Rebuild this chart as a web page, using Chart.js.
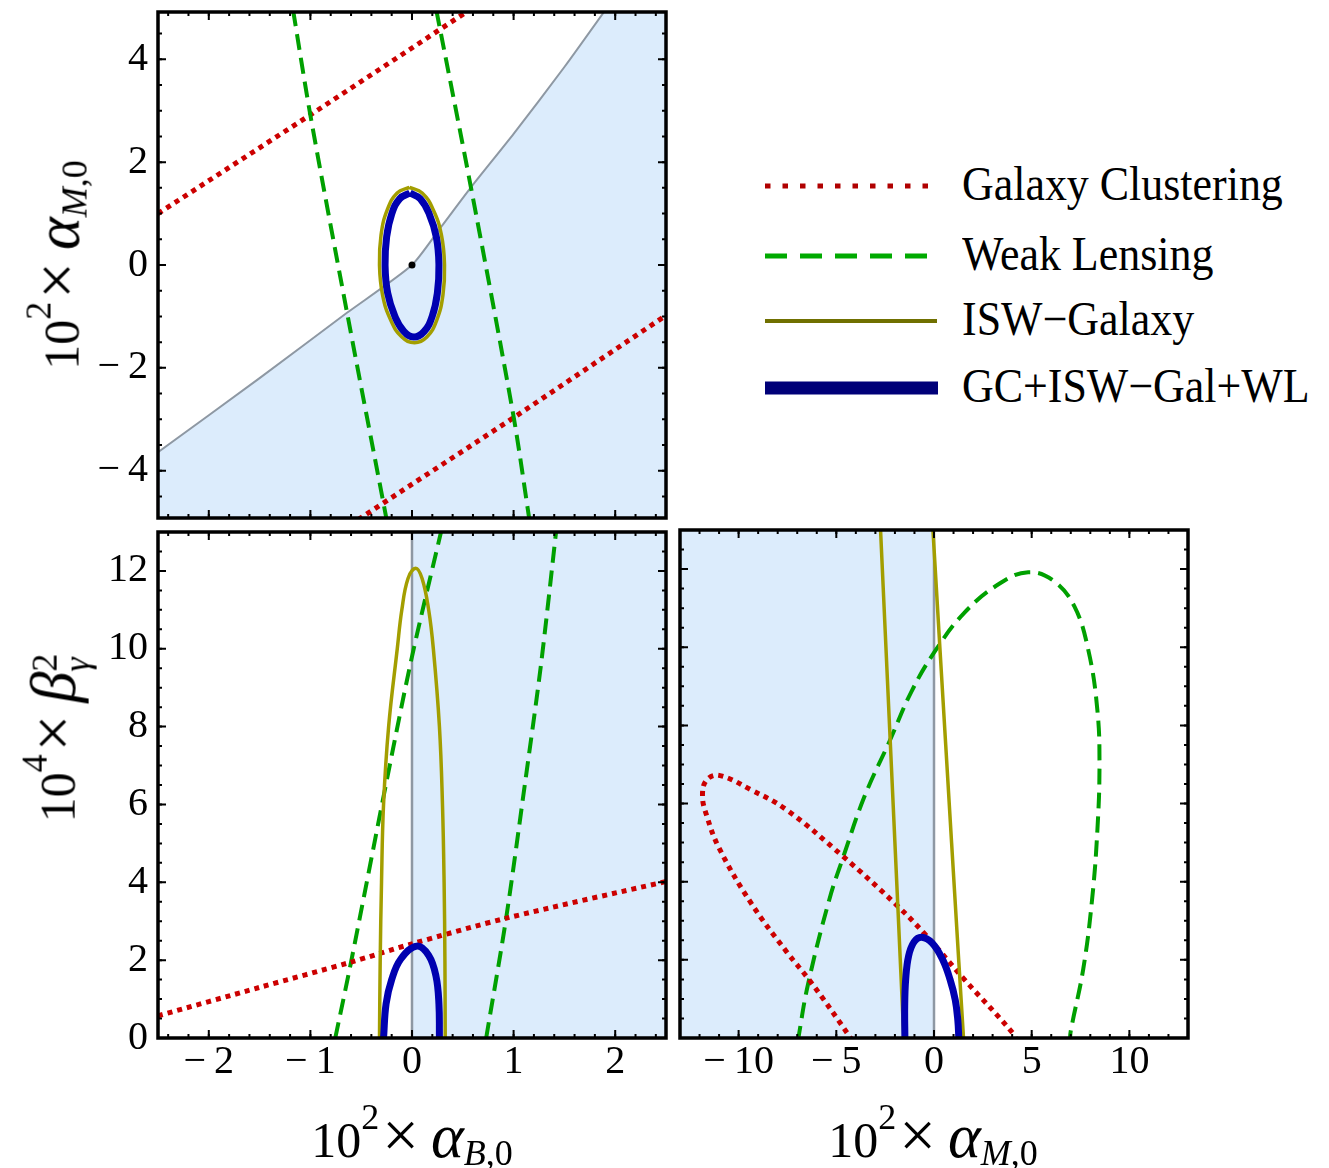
<!DOCTYPE html>
<html>
<head>
<meta charset="utf-8">
<script src="https://cdn.jsdelivr.net/npm/chart.js@4.4.0/dist/chart.umd.min.js"></script>
<style>
  body { margin: 0; background: #fff; width: 1329px; height: 1168px; position: relative; overflow: hidden; font-family: "Liberation Serif", "Times New Roman", serif; }
  canvas { position: absolute; }
  .title { position: absolute; font-size: 50px; white-space: nowrap; color: #000; line-height: 1; transform: translate(-50%, -50%); }
  .title.rot { transform: translate(-50%, -50%) rotate(-90deg); }
  .title sup { font-size: 0.72em; position: relative; top: -0.12em; vertical-align: top; }
  .title sub { font-size: 0.72em; position: relative; top: 0.08em; vertical-align: bottom; }
  .title .times { font-size: 1.3em; margin: 0 12px 0 3px; }
  .title .sym { font-size: 1.25em; }
  .stack { display: inline-block; font-size: 0.72em; line-height: 0.9; vertical-align: -0.4em; text-align: left; }
  .stack span { display: block; }
  .legend { position: absolute; left: 765px; }
  .legend .row { position: absolute; left: 0; height: 0; white-space: nowrap; }
  .legend svg { position: absolute; left: 0; top: -10px; }
  .legend .txt { position: absolute; left: 197px; top: -26px; font-size: 48px; line-height: 48px; transform: scaleX(0.915); transform-origin: left center; }
</style>
</head>
<body>
<canvas id="c1" width="680" height="530" style="left:0;top:0"></canvas>
<canvas id="c2" width="680" height="580" style="left:0;top:520px"></canvas>
<canvas id="c3" width="530" height="580" style="left:670px;top:520px"></canvas>

<div class="title rot" style="left:57px;top:265px">10<sup>2</sup><span class="times">×</span><i class="sym">α</i><sub><i>M</i>,0</sub></div>
<div class="title rot" style="left:57px;top:738px">10<sup>4</sup><span class="times">×</span><i class="sym">β</i><span class="stack"><span>2</span><span><i>γ</i></span></span></div>
<div class="title" style="left:412px;top:1135px">10<sup>2</sup><span class="times">×</span><i class="sym">α</i><sub><i>B</i>,0</sub></div>
<div class="title" style="left:933px;top:1135px">10<sup>2</sup><span class="times">×</span><i class="sym">α</i><sub><i>M</i>,0</sub></div>

<div class="legend">
  <div class="row" style="top:186px">
    <svg width="180" height="20"><line x1="0" y1="10" x2="170" y2="10" stroke="#b00000" stroke-width="5" stroke-dasharray="5.5 12"/></svg>
    <div class="txt">Galaxy Clustering</div>
  </div>
  <div class="row" style="top:256px">
    <svg width="180" height="20"><line x1="0" y1="10" x2="167" y2="10" stroke="#00aa00" stroke-width="5" stroke-dasharray="22 13"/></svg>
    <div class="txt">Weak Lensing</div>
  </div>
  <div class="row" style="top:321px">
    <svg width="180" height="20"><line x1="0" y1="10" x2="172" y2="10" stroke="#707000" stroke-width="4"/></svg>
    <div class="txt">ISW−Galaxy</div>
  </div>
  <div class="row" style="top:388px">
    <svg width="180" height="20"><line x1="0" y1="10" x2="173" y2="10" stroke="#000078" stroke-width="13"/></svg>
    <div class="txt">GC+ISW−Gal+WL</div>
  </div>
</div>

<script>
// ---- panel 1: 10^2 alpha_B (x) vs 10^2 alpha_M (y) ----
const p1XTicks = [-2, -1, 0, 1, 2];
const p1YTicks = [-4, -2, 0, 2, 4];
const p1GcUpper = [[-2.5, 1.0], [-1.0, 2.92], [0.56, 4.95]];
const p1GcLower = [[-0.53, -4.95], [1.0, -2.97], [2.5, -0.98]];
const p1WlLeft = [[-1.17, 4.95], [-1.0, 2.91], [-0.64, -0.92], [-0.25, -4.95]];
const p1WlRight = [[0.24, 4.95], [0.58, 1.51], [1.0, -2.95], [1.155, -4.95]];
const p1Isw = [[-0.025, 1.51], [0.1, 1.4], [0.21, 1.07], [0.29, 0.58], [0.32, 0], [0.305, -0.58], [0.244, -1.07],
  [0.146, -1.4], [0.025, -1.51], [-0.1, -1.4], [-0.21, -1.07], [-0.29, -0.58], [-0.32, 0], [-0.305, 0.58],
  [-0.244, 1.07], [-0.146, 1.4], [-0.025, 1.51]];
const p1All = [[-0.02, 1.4], [0.08, 1.29], [0.17, 0.99], [0.24, 0.54], [0.265, 0], [0.25, -0.54], [0.2, -0.99],
  [0.12, -1.29], [0.02, -1.4], [-0.08, -1.29], [-0.17, -0.99], [-0.24, -0.54], [-0.265, 0], [-0.25, 0.54],
  [-0.2, 0.99], [-0.12, 1.29], [-0.02, 1.4]];
const p1Bound = [[-2.6, -3.79], [-2.5, -3.64], [-1.5, -2.2], [-0.64, -0.93], [0, 0], [0.29, 0.75], [0.58, 1.51],
  [1.0, 2.55], [1.5, 3.85], [1.9, 4.95], [2.6, 6.9]];
const p1Fiducial = [[0, 0]];

// ---- panel 2: 10^2 alpha_B (x) vs 10^4 beta_gamma^2 (y) ----
const p2XTicks = [-2, -1, 0, 1, 2];
const p2YTicks = [0, 2, 4, 6, 8, 10, 12];
const p2Gc = [[-2.5, 0.57], [-1.5, 1.3], [-0.6, 1.95], [0, 2.42], [0.93, 3.08], [2.5, 4.02]];
const p2WlLeft = [[-0.755, 0], [-0.6, 1.95], [-0.25, 6.6], [0, 9.8], [0.29, 13.05]];
const p2WlRight = [[0.73, 0], [0.925, 3.05], [1.11, 6.5], [1.27, 9.6], [1.42, 13.05]];
const p2Isw = [[-0.32, 0], [-0.313, 2], [-0.3, 4], [-0.28, 6], [-0.23, 8], [-0.145, 10], [-0.1, 11],
  [-0.04, 11.8], [0.036, 12.07], [0.1, 11.8], [0.164, 11], [0.21, 10], [0.27, 8], [0.3, 6], [0.316, 4],
  [0.324, 2], [0.327, 0]];
const p2All = [[-0.28, 0], [-0.255, 0.88], [-0.2, 1.5], [-0.11, 2.03], [0.047, 2.36], [0.164, 2.12],
  [0.236, 1.59], [0.265, 0.88], [0.27, 0]];
const p2Region = [[0, 13.5], [2.7, 13.5]];
const p2Edge = [[0, 0], [0, 13]];

// ---- panel 3: 10^2 alpha_M (x) vs 10^4 beta_gamma^2 (y) ----
const p3XTicks = [-10, -5, 0, 5, 10];
const p3YTicks = [0, 2, 4, 6, 8, 10, 12];
const p3Gc = [[4.2, -0.1], [4.09, 0.09], [1.55, 1.5], [-0.45, 2.65], [-1.91, 3.4], [-4.64, 4.64], [-7.55, 5.84],
  [-9.36, 6.35], [-11.0, 6.72], [-11.64, 6.6], [-11.85, 6.2], [-11.64, 5.7], [-11.0, 4.86], [-9.36, 3.45],
  [-7.55, 2.21], [-6.27, 1.41], [-4.27, 0], [-4.2, -0.1]];
const p3Wl = [[-6.95, -0.1], [-6.91, 0.09], [-6.45, 1.37], [-5.36, 3.54], [-4.64, 4.64], [-3.55, 6.19],
  [-2.27, 7.6], [-1.18, 8.84], [0, 9.86], [1.55, 10.88], [3.36, 11.63], [4.82, 11.92], [6.09, 11.71],
  [7.18, 11.05], [7.91, 9.9], [8.36, 8.4], [8.47, 7.0], [8.36, 5.3], [8.09, 3.54], [7.64, 1.77], [7.0, 0.18],
  [6.95, -0.1]];
const p3IswLeft = [[-2.74, 13.05], [-2.24, 7.6], [-1.85, 3.36], [-1.545, 0]];
const p3IswRight = [[-0.06, 13.05], [0.3, 10], [0.9, 5], [1.27, 1.95], [1.51, 0]];
const p3All = [[-1.49, 0], [-1.5, 0.8], [-1.45, 1.5], [-1.3, 2.1], [-1.02, 2.46], [-0.64, 2.58], [-0.09, 2.43],
  [0.45, 2.0], [0.82, 1.5], [1.09, 0.97], [1.22, 0.45], [1.27, 0]];
const p3Region = [[-13.5, 13.5], [0, 13.5]];
const p3Edge = [[0, 0], [0, 13]];

// ---- styles ----
const RED = '#cc0000', GREEN = '#00a000', OLIVE = '#a39e00', BLUE = '#0000b0';
const SHADE = '#dcecfc', GRAY = '#8e98a3';
const DOTS = [5, 5], DASHES = [16, 8];

Chart.defaults.font.family = '"Liberation Serif", "Times New Roman", serif';
Chart.defaults.color = '#000';

const pts = arr => arr.map(([x, y]) => ({ x, y }));
const line = (data, color, width, dash, tension, extra) => Object.assign({
  data: pts(data), showLine: true, borderColor: color, borderWidth: width, borderDash: dash || [],
  pointRadius: 0, fill: false, tension: tension || 0, clip: 0
}, extra || {});
const region = (data) => line(data, 'rgba(0,0,0,0)', 0, null, 0, { fill: 'start', backgroundColor: SHADE });
const fmt = v => v < 0 ? '\u2212\u2009' + Math.abs(v) : String(v);

// frame with inward ticks on all four sides
const framePlugin = {
  id: 'frame',
  afterDatasetsDraw(chart, args, opts) {
    const { ctx, chartArea: a, scales: { x, y } } = chart;
    ctx.save();
    ctx.strokeStyle = '#000';
    ctx.lineWidth = 2;
    const each = (scale, step, fn) => {
      const i0 = Math.ceil(scale.min / step - 1e-9), i1 = Math.floor(scale.max / step + 1e-9);
      for (let i = i0; i <= i1; i++) fn(scale.getPixelForValue(i * step));
    };
    const xMarks = (step, len) => each(x, step, px => {
      ctx.beginPath();
      ctx.moveTo(px, a.bottom); ctx.lineTo(px, a.bottom - len);
      ctx.moveTo(px, a.top); ctx.lineTo(px, a.top + len);
      ctx.stroke();
    });
    const yMarks = (step, len) => each(y, step, py => {
      ctx.beginPath();
      ctx.moveTo(a.left, py); ctx.lineTo(a.left + len, py);
      ctx.moveTo(a.right, py); ctx.lineTo(a.right - len, py);
      ctx.stroke();
    });
    xMarks(opts.xMinor, 4); xMarks(opts.xMajor, 8);
    yMarks(opts.yMinor, 4); yMarks(opts.yMajor, 8);
    ctx.lineWidth = 3.5;
    ctx.strokeRect(a.left, a.top, a.width, a.height);
    ctx.restore();
  }
};

function makeChart(id, c) {
  return new Chart(document.getElementById(id), {
    type: 'scatter',
    data: { datasets: c.datasets },
    plugins: [framePlugin],
    options: {
      responsive: false,
      animation: false,
      events: [],
      layout: { padding: c.padding },
      plugins: {
        legend: { display: false },
        tooltip: { enabled: false },
        filler: { drawTime: 'beforeDatasetsDraw' },
        frame: c.frame
      },
      scales: {
        x: {
          type: 'linear', min: c.x[0], max: c.x[1],
          grid: { display: false, drawTicks: false }, border: { display: false },
          afterBuildTicks: s => { s.ticks = c.xTicks.map(v => ({ value: v })); },
          afterFit: s => { s.height = c.xHeight; },
          ticks: { display: c.xLabels, font: { size: 40 }, padding: 0, maxRotation: 0, autoSkip: false, callback: fmt }
        },
        y: {
          type: 'linear', min: c.y[0], max: c.y[1],
          grid: { display: false, drawTicks: false }, border: { display: false },
          afterBuildTicks: s => { s.ticks = c.yTicks.map(v => ({ value: v })); },
          afterFit: s => { s.width = c.yWidth; },
          // tiny line height keeps the axis from reserving room above and below the frame
          ticks: { display: c.yLabels, font: { size: 40, lineHeight: 0.1 }, padding: 10, autoSkip: false, callback: fmt }
        }
      }
    }
  });
}

makeChart('c1', {
  x: [-2.5, 2.5], y: [-4.92, 4.92], xTicks: p1XTicks, yTicks: p1YTicks,
  xLabels: false, yLabels: true, xHeight: 12, yWidth: 158,
  padding: { top: 11, right: 14, left: 0, bottom: 0 },
  frame: { xMajor: 1, xMinor: 0.2, yMajor: 2, yMinor: 0.5 },
  datasets: [
    line(p1Fiducial, '#000', 0, null, 0, { showLine: false, pointRadius: 3.5, pointBackgroundColor: '#000' }),
    line(p1All, BLUE, 7, null, 0.45),
    line(p1Isw, OLIVE, 3.5, null, 0.45),
    line(p1WlLeft, GREEN, 4, DASHES, 0.3),
    line(p1WlRight, GREEN, 4, DASHES, 0.3),
    line(p1GcUpper, RED, 5, DOTS),
    line(p1GcLower, RED, 5, DOTS),
    line(p1Bound, GRAY, 2, null, 0.2, { fill: 'start', backgroundColor: SHADE })
  ]
});

makeChart('c2', {
  x: [-2.5, 2.5], y: [0, 13], xTicks: p2XTicks, yTicks: p2YTicks,
  xLabels: true, yLabels: true, xHeight: 62, yWidth: 158,
  padding: { top: 10, right: 14, left: 0, bottom: 0 },
  frame: { xMajor: 1, xMinor: 0.2, yMajor: 2, yMinor: 0.5 },
  datasets: [
    line(p2All, BLUE, 7, null, 0.4),
    line(p2Isw, OLIVE, 3.5, null, 0.4),
    line(p2Gc, RED, 5, DOTS, 0.3),
    line(p2WlLeft, GREEN, 4, DASHES, 0.3),
    line(p2WlRight, GREEN, 4, DASHES, 0.3),
    line(p2Edge, GRAY, 2.5),
    region(p2Region)
  ]
});

makeChart('c3', {
  x: [-13, 13], y: [0, 13], xTicks: p3XTicks, yTicks: p3YTicks,
  xLabels: true, yLabels: false, xHeight: 62, yWidth: 10,
  padding: { top: 10, right: 12, left: 0, bottom: 0 },
  frame: { xMajor: 5, xMinor: 1, yMajor: 2, yMinor: 0.5 },
  datasets: [
    line(p3All, BLUE, 7, null, 0.4),
    line(p3IswLeft, OLIVE, 3.5, null, 0.2),
    line(p3IswRight, OLIVE, 3.5, null, 0.2),
    line(p3Gc, RED, 5, DOTS, 0.4),
    line(p3Wl, GREEN, 4, DASHES, 0.4),
    line(p3Edge, GRAY, 2.5),
    region(p3Region)
  ]
});
</script>
</body>
</html>
